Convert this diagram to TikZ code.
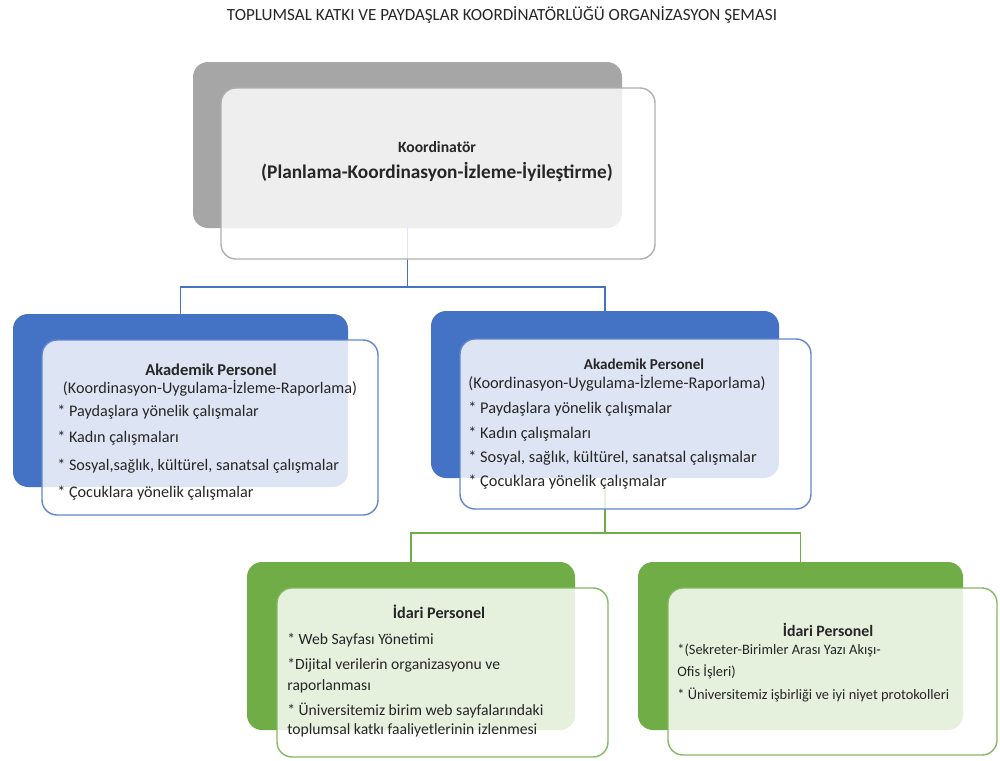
\documentclass[tikz,border=0pt]{standalone}
\usepackage{fontspec}
\setmainfont{Carlito}
\usepackage{xcolor}
\usetikzlibrary{positioning, calc}

\definecolor{backgray}{HTML}{A6A6A6}
\definecolor{backblue}{HTML}{4472C4}
\definecolor{backgreen}{HTML}{70AD47}
\definecolor{textdark}{HTML}{262626}

\begin{document}
\begin{tikzpicture}[font=\fontsize{9.2}{11}\selectfont, text=textdark]
    \tikzstyle{backbox} = [rectangle, rounded corners=0.3cm, draw=none, inner sep=0pt]
    \tikzstyle{frontbox} = [rectangle, rounded corners=0.3cm, fill=white, fill opacity=0.82, line width=0.8pt, inner sep=0pt]
    \tikzstyle{head} = [font=\fontsize{9.2}{11}\selectfont\bfseries]
    \tikzstyle{item} = [anchor=west, inner sep=0pt]
    \tikzstyle{link} = [line width=0.8pt]

    \useasboundingbox (0,0) rectangle (20,-15.2);

    % title
    \node[font=\fontsize{9.7}{11}\selectfont] (title) at (10.04,-0.3) {TOPLUMSAL KATKI VE PAYDAŞLAR KOORDİNATÖRLÜĞÜ ORGANİZASYON ŞEMASI};

    % back boxes
    \node[backbox, fill=backgray, minimum width=8.58cm, minimum height=3.32cm] (koordback) at (8.15,-2.9) {};
    \node[backbox, fill=backblue, minimum width=6.7cm, minimum height=3.46cm] (akadLback) at (3.61,-8.01) {};
    \node[backbox, fill=backblue, minimum width=6.96cm, minimum height=3.34cm] (akadRback) at (12.1,-7.89) {};
    \node[backbox, fill=backgreen, minimum width=6.56cm, minimum height=3.36cm] (idariLback) at (8.22,-12.92) {};
    \node[backbox, fill=backgreen, minimum width=6.5cm, minimum height=3.36cm] (idariRback) at (16.01,-12.92) {};

    % connectors
    \coordinate (blueBus) at (8.15,-5.74);
    \coordinate (greenBus) at (12.1,-10.66);
    \draw[link, draw=backblue] (koordback.south) -- (blueBus) -| (akadLback.north);
    \draw[link, draw=backblue] (blueBus) -| (akadRback.north);
    \draw[link, draw=backgreen] (akadRback.south) -- (greenBus) -| (idariLback.north);
    \draw[link, draw=backgreen] (greenBus) -| (idariRback.north);

    % front boxes
    \node[frontbox, draw=backgray!90, minimum width=8.68cm, minimum height=3.42cm] (koord) at (8.76,-3.47) {};
    \node[frontbox, draw=backblue!85, minimum width=6.72cm, minimum height=3.5cm] (akadL) at (4.2,-8.55) {};
    \node[frontbox, draw=backblue!85, minimum width=7.02cm, minimum height=3.4cm] (akadR) at (12.71,-8.48) {};
    \node[frontbox, draw=backgreen!85, minimum width=6.62cm, minimum height=3.38cm] (idariL) at (8.85,-13.45) {};
    \node[frontbox, draw=backgreen!85, minimum width=6.58cm, minimum height=3.34cm] (idariR) at (16.65,-13.43) {};

    % coordinator
    \node[head, font=\fontsize{8.9}{11}\selectfont\bfseries] (koordhead) at (8.74,-2.94) {Koordinatör};
    \node[font=\fontsize{11}{13}\selectfont\bfseries] (koordsub) at (8.74,-3.44) {(Planlama-Koordinasyon-İzleme-İyileştirme)};

    % academic staff, left
    \node[head, font=\fontsize{9.4}{11}\selectfont\bfseries] (akadLhead) at (4.22,-7.4) {Akademik Personel};
    \node (akadLsub) at (4.2,-7.76) {(Koordinasyon-Uygulama-İzleme-Raporlama)};
    \node[item] (akadL1) at (1.14,-8.24) {* Paydaşlara yönelik çalışmalar};
    \node[item] (akadL2) at (1.14,-8.76) {* Kadın çalışmaları};
    \node[item] (akadL3) at (1.14,-9.32) {* Sosyal,sağlık, kültürel, sanatsal çalışmalar};
    \node[item] (akadL4) at (1.14,-9.86) {* Çocuklara yönelik çalışmalar};

    % academic staff, right
    \node[head, font=\fontsize{8.6}{10}\selectfont\bfseries] (akadRhead) at (12.88,-7.28) {Akademik Personel};
    \node[item, font=\fontsize{9.3}{11}\selectfont] (akadRsub) at (9.36,-7.66) {(Koordinasyon-Uygulama-İzleme-Raporlama)};
    \node[item, font=\fontsize{9.3}{11}\selectfont] (akadR1) at (9.36,-8.18) {* Paydaşlara yönelik çalışmalar};
    \node[item, font=\fontsize{9.3}{11}\selectfont] (akadR2) at (9.36,-8.68) {* Kadın çalışmaları};
    \node[item, font=\fontsize{9.3}{11}\selectfont] (akadR3) at (9.36,-9.16) {* Sosyal, sağlık, kültürel, sanatsal çalışmalar};
    \node[item, font=\fontsize{9.3}{11}\selectfont] (akadR4) at (9.36,-9.64) {* Çocuklara yönelik çalışmalar};

    % administrative staff, left
    \node[head, font=\fontsize{9.2}{11}\selectfont\bfseries] (idariLhead) at (8.78,-12.24) {İdari Personel};
    \node[item, font=\fontsize{8.9}{11}\selectfont] (idariL1) at (5.74,-12.8) {* Web Sayfası Yönetimi};
    \node[item, font=\fontsize{8.9}{11}\selectfont] (idariL2a) at (5.74,-13.3) {*Dijital verilerin organizasyonu ve};
    \node[item, font=\fontsize{8.9}{11}\selectfont] (idariL2b) at (5.74,-13.72) {raporlanması};
    \node[item, font=\fontsize{8.9}{11}\selectfont] (idariL3a) at (5.74,-14.2) {* Üniversitemiz birim web sayfalarındaki};
    \node[item, font=\fontsize{8.9}{11}\selectfont] (idariL3b) at (5.74,-14.6) {toplumsal katkı faaliyetlerinin izlenmesi};

    % administrative staff, right
    \node[head, font=\fontsize{9}{11}\selectfont\bfseries] (idariRhead) at (16.56,-12.6) {İdari Personel};
    \node[item, font=\fontsize{8.2}{10}\selectfont] (idariR1a) at (13.54,-13.0) {*(Sekreter-Birimler Arası Yazı Akışı-};
    \node[item, font=\fontsize{8.2}{10}\selectfont] (idariR1b) at (13.54,-13.44) {Ofis İşleri)};
    \node[item, font=\fontsize{8.2}{10}\selectfont] (idariR2) at (13.54,-13.9) {* Üniversitemiz işbirliği ve iyi niyet protokolleri};
\end{tikzpicture}
\end{document}
